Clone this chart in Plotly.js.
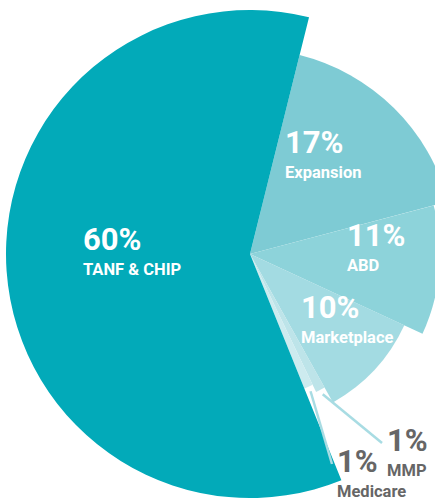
<!DOCTYPE html>
<html>
<head>
<meta charset="utf-8">
<script src="https://cdn.plot.ly/plotly-3.0.1.min.js"></script>
<style>
  html, body { margin: 0; padding: 0; overflow: hidden; background: #fff; }
  #chart { width: 500px; height: 501px; }
</style>
</head>
<body>
<div id="chart"></div>
<script>
// ---- data ----
var categories = ['Expansion', 'ABD', 'Marketplace', 'MMP', 'Medicare', 'TANF & CHIP'];
var shares = [17, 11, 10, 1, 1, 60];

// ---- styles ----
var sliceColors = ['#7ecbd4', '#8dd3da', '#a3dbe2', '#bde4e9', '#cdebef', '#02aab9'];
var sliceRadii = [205, 190, 170, 153, 145, 244];   // px
var W = 500, H = 501;
var CX = 250, CY = 254;
var ROT = 14;
var FONT = 'Roboto, "Liberation Sans", Arial, sans-serif';

// label anchor positions (left/top, px)
var labelPos = [
  {x: 284, y: 123, inside: true},
  {x: 346, y: 216, inside: true},
  {x: 300, y: 288, inside: true},
  {x: 386, y: 421, inside: false},
  {x: 336, y: 442, inside: false},
  {x: 82, y: 220, inside: true}
];

var total = shares.reduce(function (a, b) { return a + b; }, 0);
function px2x(p) { return p / W; }
function py2y(p) { return 1 - p / H; }

var traces = categories.map(function (cat, i) {
  var r = sliceRadii[i];
  return {
    type: 'pie',
    values: shares,
    labels: categories,
    sort: false,
    direction: 'clockwise',
    rotation: ROT,
    textinfo: 'none',
    hoverinfo: 'label+value',
    showlegend: false,
    marker: {
      colors: sliceColors.map(function (c, j) { return j === i ? c : 'rgba(0,0,0,0)'; }),
      line: {width: 0}
    },
    domain: {
      x: [px2x(CX - r), px2x(CX + r)],
      y: [py2y(CY + r), py2y(CY - r)]
    }
  };
});

var annotations = [];
var shapes = [];
var cum = 0;
categories.forEach(function (cat, i) {
  var start = ROT + 360 * cum / total;
  cum += shares[i];
  var end = ROT + 360 * cum / total;
  var mid = (start + end) / 2 * Math.PI / 180;
  var lp = labelPos[i];
  var col = lp.inside ? '#ffffff' : '#666666';
  annotations.push({
    xref: 'paper', yref: 'paper', x: px2x(lp.x), y: py2y(lp.y),
    xanchor: 'left', yanchor: 'top', align: 'left', showarrow: false,
    borderpad: 0,
    text: '<span style="font-size:31px"><b>' + shares[i] + '%</b></span><br>' +
          '<span style="font-size:16.5px"><b>' + cat + '</b></span>',
    font: {family: FONT, size: 19.5, color: col}
  });
  if (!lp.inside) {
    var r0 = sliceRadii[i] + 5;
    var sx = CX + r0 * Math.sin(mid), sy = CY - r0 * Math.cos(mid);
    var ex = lp.x - 4, ey = lp.y + 22;
    shapes.push({
      type: 'line', xref: 'paper', yref: 'paper',
      x0: px2x(sx), y0: py2y(sy), x1: px2x(ex), y1: py2y(ey),
      line: {color: '#a8dce3', width: 2.5}
    });
  }
});

var layout = {
  width: W, height: H,
  margin: {l: 0, r: 0, t: 0, b: 0, pad: 0},
  paper_bgcolor: '#ffffff',
  showlegend: false,
  annotations: annotations,
  shapes: shapes
};

Plotly.newPlot('chart', traces, layout, {displayModeBar: false, staticPlot: true});
</script>
</body>
</html>
